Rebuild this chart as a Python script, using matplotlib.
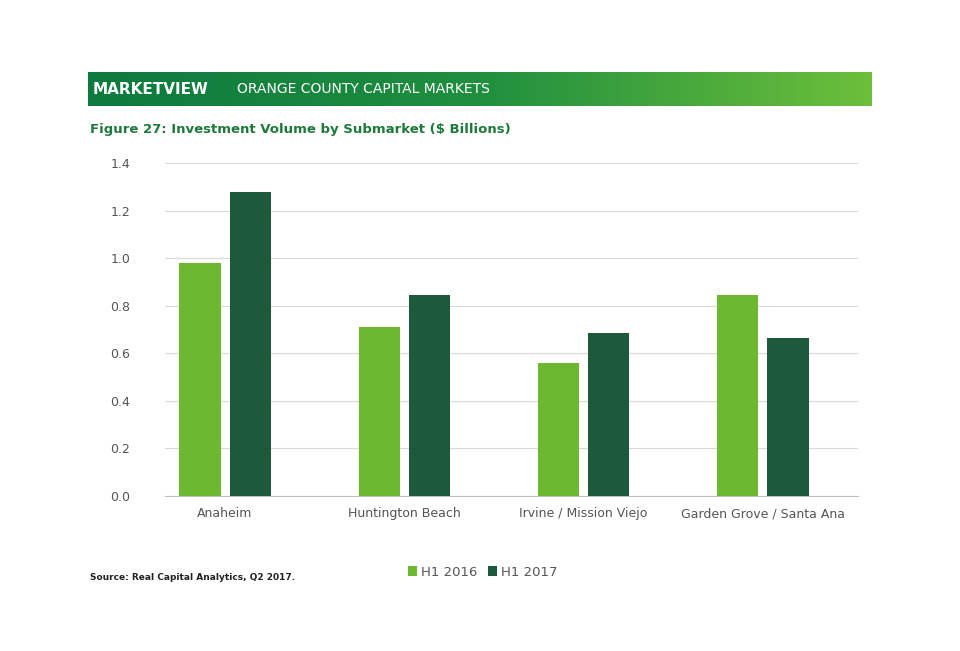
import numpy as np
import matplotlib.pyplot as plt
from matplotlib.colors import LinearSegmentedColormap

categories = ['Anaheim', 'Huntington Beach', 'Irvine / Mission Viejo', 'Garden Grove / Santa Ana']
h1_2016 = [0.98, 0.71, 0.56, 0.845]
h1_2017 = [1.28, 0.845, 0.685, 0.665]
yticks = [0.0, 0.2, 0.4, 0.6, 0.8, 1.0, 1.2, 1.4]

light = '#6cb92f'
dark = '#1d5a3b'

fig = plt.figure(figsize=(9.6, 6.51), dpi=100)

# header band with gradient
hb = fig.add_axes([88/960, 1-106/651, 784/960, 34/651])
cmap = LinearSegmentedColormap.from_list('g', ['#0d7a3e', '#1f8f3f', '#6cbf3a'])
hb.imshow(np.linspace(0, 1, 256)[None, :], aspect='auto', cmap=cmap, extent=[0, 1, 0, 1])
hb.set_axis_off()
hb.text(0.006, 0.5, 'MARKETVIEW', color='white', fontsize=11, fontweight='bold',
        va='center', ha='left', transform=hb.transAxes)
hb.text(0.19, 0.5, 'ORANGE COUNTY CAPITAL MARKETS', color='white', fontsize=10,
        va='center', ha='left', transform=hb.transAxes)

fig.text(90/960, 1-130/651, 'Figure 27: Investment Volume by Submarket ($ Billions)',
         color='#1d7a3a', fontsize=9.5, fontweight='bold', va='center', ha='left')

ax = fig.add_axes([165/960, 1-496/651, 693/960, 333/651])
x = np.arange(len(categories))
w = 0.23
ax.bar(x - 0.14, h1_2016, w, color=light, label='H1 2016', zorder=3)
ax.bar(x + 0.14, h1_2017, w, color=dark, label='H1 2017', zorder=3)
ax.set_xlim(-0.335, 3.53)
ax.set_ylim(0, 1.4)
ax.set_yticks(yticks)
ax.set_yticklabels([f'{v:.1f}' for v in yticks])
ax.set_xticks(x)
ax.set_xticklabels(categories)
ax.grid(axis='y', color='#d9d9d9', linewidth=0.8, zorder=0)
for s in ['top', 'right', 'left']:
    ax.spines[s].set_visible(False)
ax.spines['bottom'].set_color('#bfbfbf')
ax.tick_params(axis='both', length=0, labelsize=9, colors='#555555', pad=8)
ax.tick_params(axis='y', pad=25)

fig.legend(loc='center', bbox_to_anchor=(483/960, 1-572/651), ncol=2, frameon=False,
           fontsize=9.5, handlelength=0.7, handleheight=0.7, columnspacing=0.8,
           handletextpad=0.3, labelcolor='#555555')

fig.text(90/960, 1-578/651, 'Source: Real Capital Analytics, Q2 2017.', fontsize=6.5,
         fontweight='bold', color='#222222', va='center')

fig.savefig('out.png', dpi=100, facecolor='white')
